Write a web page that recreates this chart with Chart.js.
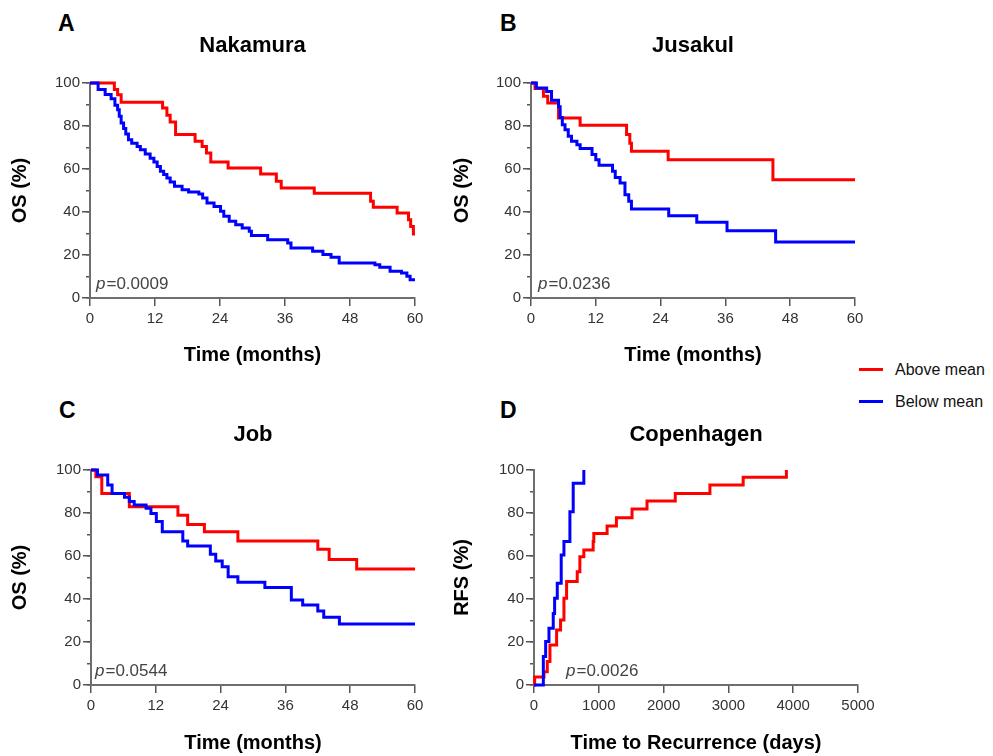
<!DOCTYPE html>
<html><head><meta charset="utf-8">
<script src="https://cdn.jsdelivr.net/npm/chart.js@4.4.0/dist/chart.umd.min.js"></script>
<style>
html,body{margin:0;padding:0;background:#fff;}
body{width:993px;height:756px;position:relative;overflow:hidden;font-family:'Liberation Sans',Arial,sans-serif;}
.letter{position:absolute;font-weight:bold;font-size:23px;line-height:23px;color:#000;}
.leg{position:absolute;font-size:16px;line-height:16px;color:#111;}
.legline{position:absolute;height:3px;width:24px;}
</style></head><body>
<div class="letter" style="left:58px;top:12px;">A</div>
<div class="letter" style="left:500px;top:12px;">B</div>
<div class="letter" style="left:59px;top:399px;">C</div>
<div class="letter" style="left:500px;top:399px;">D</div>
<div class="legline" style="left:859px;top:368px;background:#ff0000;"></div>
<div class="leg" style="left:895px;top:362px;">Above mean</div>
<div class="legline" style="left:859px;top:400px;background:#0000ff;"></div>
<div class="leg" style="left:895px;top:394px;">Below mean</div>
<script>
// ---- Data ----
const panelTitles = ['Nakamura', 'Jusakul', 'Job', 'Copenhagen'];
const pValues = ['0.0009', '0.0236', '0.0544', '0.0026'];
const seriesNames = ['Above mean', 'Below mean'];

// A: Nakamura (OS %, months)
const nakamuraAboveT = [0, 4.5, 5.1, 5.75, 13.4, 14.2, 14.8, 15.8, 19.4, 20.7, 21.5, 22.3, 25.5, 31.5, 34.4, 35.3, 41.4, 51.8, 52.3, 56.7, 58.8, 59.2, 59.7, 60];
const nakamuraAboveS = [100, 97, 94.5, 91, 88.4, 85, 81.9, 76, 72.9, 70.5, 67.4, 63.3, 60.5, 57.7, 54.3, 51.2, 48.7, 45, 42.2, 39.5, 36.4, 33.3, 29.8, 29.8];
const nakamuraBelowT = [0, 1.5, 2.8, 3.9, 4.6, 5.1, 5.4, 5.75, 6.2, 6.6, 7.1, 7.7, 8.7, 9.3, 10.2, 11.1, 11.8, 12.4, 13, 13.6, 14.2, 14.8, 15.6, 17, 18.2, 20.1, 20.8, 21.6, 22.9, 24.1, 24.7, 25.7, 26.9, 28.1, 29.4, 29.8, 32.8, 36.5, 37.1, 41.1, 43, 44.5, 46, 52.6, 53.5, 55.4, 57.5, 58.5, 59.1, 60];
const nakamuraBelowS = [100, 97, 94.6, 92.7, 89.6, 87.6, 84.5, 81.4, 78.8, 76.3, 73.6, 72, 70.5, 69, 67, 65, 63.3, 61.2, 58.9, 57.4, 55.8, 54, 52, 50.4, 49.3, 48.4, 46.5, 44.2, 42.6, 40.3, 38, 35.7, 34.1, 32.6, 31, 29.1, 27.1, 25.6, 23.3, 21.7, 20.2, 18.9, 16.3, 15.5, 14.3, 12.4, 11.6, 10.1, 8.5, 8.5];

// B: Jusakul (OS %, months)
const jusakulAboveT = [0, 0.74, 2.3, 3.1, 5.1, 9.1, 17.7, 18.3, 18.6, 25.4, 44.8, 60];
const jusakulAboveS = [100, 97.4, 93.8, 90.7, 83.7, 80.3, 76, 72, 68.2, 64.3, 55, 55];
const jusakulBelowT = [0, 1, 2.9, 3.8, 5.1, 5.4, 5.8, 6.3, 6.9, 7.5, 8.5, 9.1, 11.3, 12, 12.6, 15.1, 15.6, 16.5, 17.4, 18.1, 18.6, 25.5, 30.7, 36.3, 45.3, 60];
const jusakulBelowS = [100, 97.7, 96, 92, 89, 84, 80.6, 78.3, 75.2, 72.9, 71.3, 69.5, 66.7, 64.3, 61.7, 58.9, 56.1, 53.5, 48, 45, 41.4, 38.3, 35.2, 31.3, 26, 26];

// C: Job (OS %, months)
const jobAboveT = [0, 0.9, 2, 7.1, 16.1, 17.9, 21, 27.2, 42, 44.1, 49.2, 60];
const jobAboveS = [100, 96.9, 89.1, 82.9, 79, 74.7, 71.3, 67, 63.1, 58.4, 54, 54];
const jobBelowT = [0, 1.2, 3.1, 3.9, 6.2, 7.1, 8, 10.2, 11.1, 12.1, 13.2, 17, 17.9, 22.1, 23.1, 24.3, 25.4, 27.2, 32.2, 37.1, 39.2, 42, 43.1, 46, 60];
const jobBelowS = [100, 97.7, 93, 89.1, 87.3, 85.3, 83.7, 82.2, 79.8, 76, 71.3, 67, 64.7, 60.8, 57.7, 55, 50.4, 47.8, 45.3, 39.5, 37.2, 34.4, 31.5, 28.4, 28.4];

// D: Copenhagen (RFS %, days, cumulative)
const copenhagenAboveT = [0, 10, 154, 205, 246, 349, 410, 462, 503, 667, 708, 769, 913, 923, 1128, 1272, 1513, 1744, 2180, 2715, 3228, 3895];
const copenhagenAboveS = [0, 3.7, 6.2, 10.9, 18.6, 25.6, 30.2, 40.3, 48.1, 52.7, 59.7, 62.8, 66.7, 70.5, 74, 77.8, 81.9, 85.6, 89.1, 93, 96.6, 100];
const copenhagenBelowT = [0, 144, 180, 231, 297, 318, 359, 420, 462, 554, 605, 769];
const copenhagenBelowS = [0, 13.2, 20.2, 26.4, 33.3, 40.3, 47.3, 60.5, 66.7, 80.6, 93.8, 100];

// Axes
const xMaxMonths = 60, xStepMonths = 12;
const xMaxDays = 5000, xStepDays = 1000;
const yTitles = ['OS (%)', 'OS (%)', 'OS (%)', 'RFS (%)'];
const xTitles = ['Time (months)', 'Time (months)', 'Time (months)', 'Time to Recurrence (days)'];

// ---- Drawing ----
const FONT = "'Liberation Sans', Arial, sans-serif";
function pts(t, s) { return t.map((x, i) => ({x: x, y: s[i]})); }

const pvalPlugin = {
  id: 'pval',
  afterDraw(chart, args, opts) {
    const ctx = chart.ctx, a = chart.chartArea;
    ctx.save();
    ctx.fillStyle = '#444';
    ctx.textBaseline = 'alphabetic';
    ctx.textAlign = 'left';
    const x = a.left + opts.dx, y = a.bottom - 9;
    ctx.font = 'italic 17px ' + FONT;
    ctx.fillText('p', x, y);
    const w = ctx.measureText('p').width;
    ctx.font = '17px ' + FONT;
    ctx.fillText('=' + opts.value, x + w + 1, y);
    ctx.restore();
  }
};

function makePanel(p) {
  const c = document.createElement('canvas');
  c.width = p.w; c.height = p.h;
  c.style.cssText = 'position:absolute;left:' + p.left + 'px;top:' + p.top + 'px;width:' + p.w + 'px;height:' + p.h + 'px;';
  document.body.appendChild(c);
  const titleLH = 22 * 1.2;
  const tPadTop = p.titleC - titleLH / 2;
  const tPadBottom = p.chartTop - tPadTop - titleLH;
  const axLH = 20 * 1.2;
  const xH = p.xTitleC + axLH / 2 - p.chartBottom;
  const padBottom = p.h - p.chartBottom - xH;
  const tickFont = {family: FONT, size: 15};
  const gridOpts = {drawOnChartArea: false, drawTicks: true, tickLength: 8, color: '#555', lineWidth: 1.5};
  const borderOpts = {display: true, color: '#6e6e6e', width: 2};
  const lineDs = (label, data, color) => ({
    label: label, data: data, borderColor: color, backgroundColor: color,
    borderWidth: 3, pointRadius: 0, stepped: true, fill: false, tension: 0,
    borderJoinStyle: 'miter', clip: false, xAxisID: 'x', yAxisID: 'y'
  });
  new Chart(c, {
    type: 'line',
    data: {datasets: [
      lineDs(seriesNames[1], pts(p.blueT, p.blueS), '#0000ff'),
      lineDs(seriesNames[0], pts(p.redT, p.redS), '#ff0000')
    ]},
    options: {
      responsive: false, animation: false, devicePixelRatio: 1,
      layout: {padding: {left: 0, top: 0, right: p.padRight, bottom: padBottom}},
      plugins: {
        legend: {display: false}, tooltip: {enabled: false},
        title: {display: true, text: p.title, fullSize: false, color: '#000',
          font: {family: FONT, size: 22, weight: 'bold', lineHeight: 1.2},
          padding: {top: tPadTop, bottom: tPadBottom}},
        pval: {value: p.pval, dx: p.pdx}
      },
      scales: {
        x: {type: 'linear', position: 'bottom', min: 0, max: p.xMax,
          ticks: {stepSize: p.xStep, font: tickFont, color: '#333', padding: 4, maxRotation: 0, autoSkip: false,
            callback: v => String(v)},
          grid: gridOpts, border: borderOpts,
          title: {display: true, text: p.xTitle, color: '#000',
            font: {family: FONT, size: 20, weight: 'bold', lineHeight: 1.2}, padding: {top: 0, bottom: 0}},
          afterFit: s => { s.height = xH; }},
        y: {type: 'linear', position: 'left', weight: 1, min: 0, max: 100,
          ticks: {stepSize: 20, font: tickFont, color: '#333', padding: 2, callback: v => String(v)},
          grid: gridOpts, border: borderOpts,
          title: {display: true, text: p.yTitle, color: '#000',
            font: {family: FONT, size: 20, weight: 'bold', lineHeight: 1.2}, padding: {top: p.yTitleC - axLH / 2, bottom: 0}},
          afterFit: s => { s.width = p.yW; }},
        y2: {type: 'linear', position: 'left', weight: 0, min: 0, max: 100,
          ticks: {stepSize: 10, display: false},
          grid: {drawOnChartArea: false, drawTicks: true, tickLength: 4, color: '#555', lineWidth: 1.5},
          border: {display: false},
          afterFit: s => { s.width = 0; }}
      }
    },
    plugins: [pvalPlugin]
  });
}

makePanel({left: 0, top: 0, w: 505, h: 380, yW: 90, padRight: 90, chartTop: 83, chartBottom: 298,
  titleC: 46, xTitleC: 355, yTitleC: 20, title: panelTitles[0], pval: pValues[0], pdx: 6,
  xMax: xMaxMonths, xStep: xStepMonths, xTitle: xTitles[0], yTitle: yTitles[0],
  redT: nakamuraAboveT, redS: nakamuraAboveS, blueT: nakamuraBelowT, blueS: nakamuraBelowS});
makePanel({left: 441, top: 0, w: 505, h: 380, yW: 90, padRight: 91, chartTop: 83, chartBottom: 298,
  titleC: 46, xTitleC: 355, yTitleC: 21, title: panelTitles[1], pval: pValues[1], pdx: 7,
  xMax: xMaxMonths, xStep: xStepMonths, xTitle: xTitles[1], yTitle: yTitles[1],
  redT: jusakulAboveT, redS: jusakulAboveS, blueT: jusakulBelowT, blueS: jusakulBelowS});
makePanel({left: 1, top: 388, w: 505, h: 368, yW: 90, padRight: 91, chartTop: 82, chartBottom: 297,
  titleC: 47, xTitleC: 355, yTitleC: 19, title: panelTitles[2], pval: pValues[2], pdx: 4,
  xMax: xMaxMonths, xStep: xStepMonths, xTitle: xTitles[2], yTitle: yTitles[2],
  redT: jobAboveT, redS: jobAboveS, blueT: jobBelowT, blueS: jobBelowS});
makePanel({left: 443, top: 388, w: 505, h: 368, yW: 91, padRight: 90, chartTop: 82, chartBottom: 297,
  titleC: 47, xTitleC: 355, yTitleC: 19, title: panelTitles[3], pval: pValues[3], pdx: 32,
  xMax: xMaxDays, xStep: xStepDays, xTitle: xTitles[3], yTitle: yTitles[3],
  redT: copenhagenAboveT, redS: copenhagenAboveS, blueT: copenhagenBelowT, blueS: copenhagenBelowS});
</script>
</body></html>
